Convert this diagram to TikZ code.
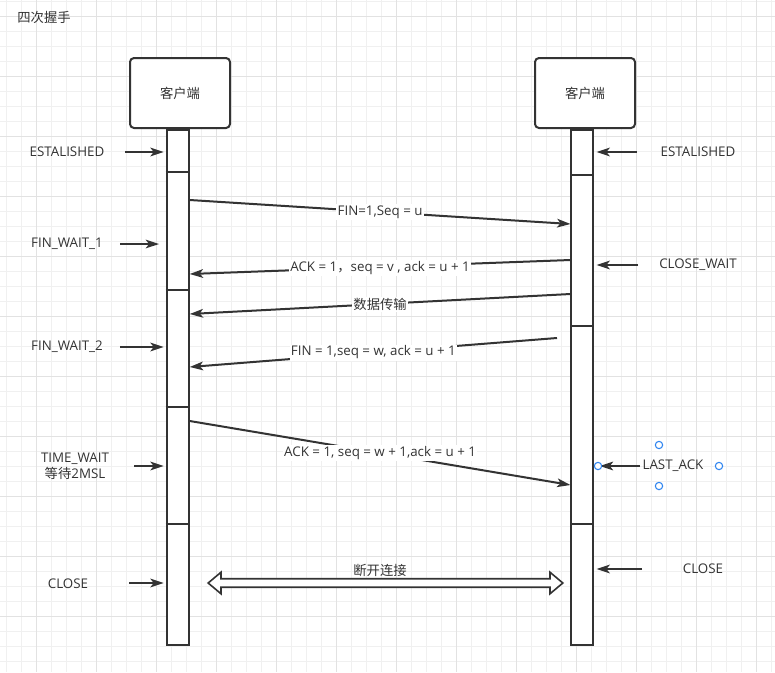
\documentclass[tikz,border=0pt]{standalone}
\usepackage{fontspec}
\setmainfont{Open Sans}
\newfontfamily\cjk{Noto Sans CJK SC}
\usetikzlibrary{positioning,calc,arrows.meta,shapes.arrows}
\definecolor{ink}{HTML}{333333}
\definecolor{gridminor}{HTML}{F0F0F0}
\definecolor{gridmajor}{HTML}{E2E2E2}
\definecolor{handleblue}{HTML}{2F85F0}

\begin{document}
\begin{tikzpicture}[x=0.75pt, y=-0.75pt, font=\fontsize{10}{12}\selectfont, text=ink,
  actor/.style={draw=ink, line width=1.5pt, rounded corners=3pt, fill=white, minimum width=75pt, minimum height=52.5pt},
  life/.style={draw=ink, line width=1.5pt, fill=white, minimum width=16.5pt, minimum height=386.25pt, anchor=north, inner sep=0pt},
  sep/.style={draw=ink, line width=1.5pt},
  msg/.style={draw=ink, line width=1.5pt, -{Stealth[length=10pt,width=6.5pt,inset=2.5pt]}},
  st/.style={msg},
  lbl/.style={fill=white, inner sep=1pt},
  handle/.style={circle, draw=handleblue, line width=0.8pt, fill=white, minimum size=5.5pt, inner sep=0pt},
  gmin/.style={draw=gridminor, line width=0.75pt},
  gmaj/.style={draw=gridmajor, line width=0.75pt}]
	% background and grid
	\fill[white] (0,0) rectangle (775,672);
	\useasboundingbox (0,0) rectangle (775,672);
	\foreach \i in {0,...,51} \draw[gmin] (6.7+15*\i,0) -- (6.7+15*\i,672);
	\foreach \i in {0,...,44} \draw[gmin] (0,1.7+15*\i) -- (775,1.7+15*\i);
	\foreach \i in {0,...,12} \draw[gmaj] (36.7+60*\i,0) -- (36.7+60*\i,672);
	\foreach \i in {0,...,10} \draw[gmaj] (0,16.7+60*\i) -- (775,16.7+60*\i);

	\node (title) at (44,17) {\cjk 四次握手};

	% actors and lifelines
	\node[actor] (client) at (180,93) {\cjk 客户端};
	\node[actor] (server) at (585,93) {\cjk 客户端};
	\node[life] (cl) at ([xshift=-1.7pt]client.south) {};
	\node[life] (sl) at ([xshift=-1.9pt]server.south) {};
	\foreach \yy in {172,290,407,524} \draw[sep] (cl.west |- 0,\yy) -- (cl.east |- 0,\yy);
	\foreach \yy in {175,326,524} \draw[sep] (sl.west |- 0,\yy) -- (sl.east |- 0,\yy);

	% messages
	\draw[msg] (cl.east |- 0,200) -- node[lbl] {FIN=1,Seq = u} (sl.west |- 0,224);
	\draw[msg] (sl.west |- 0,260) -- node[lbl, yshift=-1pt] {ACK = 1{\cjk ，}seq = v , ack = u + 1} (cl.east |- 0,274);
	\draw[msg] (sl.west |- 0,294) -- node[lbl] {\cjk 数据传输} (cl.east |- 0,314);
	\coordinate (fin_s) at (557,338);
	\draw[msg] (fin_s) -- node[lbl] {FIN = 1,seq = w, ack = u + 1} (cl.east |- 0,367);
	\draw[msg] (cl.east |- 0,421) -- node[lbl] {ACK = 1, seq = w + 1,ack = u + 1} (sl.west |- 0,485);

	% client states
	\node (c_est) at (67,152) {ESTALISHED};
	\coordinate (c_est_s) at (125,152);
	\draw[st, shorten >=1.5pt] (c_est_s) -- (cl.west |- c_est_s);
	\node (c_fw1) at (67,244) {FIN\_WAIT\_1};
	\coordinate (c_fw1_s) at (120,244);
	\draw[st, shorten >=5pt] (c_fw1_s) -- (cl.west |- c_fw1_s);
	\node (c_fw2) at (67,347) {FIN\_WAIT\_2};
	\coordinate (c_fw2_s) at (120,347);
	\draw[st, shorten >=1.5pt] (c_fw2_s) -- (cl.west |- c_fw2_s);
	\node[align=center] (c_tw) at (75,466) {TIME\_WAIT\\{\cjk 等待}2MSL};
	\coordinate (c_tw_s) at (134,466);
	\draw[st, shorten >=1.5pt] (c_tw_s) -- (cl.west |- c_tw_s);
	\node (c_close) at (68,584) {CLOSE};
	\coordinate (c_close_s) at (129,583);
	\draw[st, shorten >=1.5pt] (c_close_s) -- (cl.west |- c_close_s);

	% server states
	\node (s_est) at (698,152) {ESTALISHED};
	\coordinate (s_est_s) at (637,152);
	\draw[st, shorten >=1.5pt] (s_est_s) -- (sl.east |- s_est_s);
	\node (s_cw) at (698,265) {CLOSE\_WAIT};
	\coordinate (s_cw_s) at (638,265);
	\draw[st, shorten >=1.5pt] (s_cw_s) -- (sl.east |- s_cw_s);
	\node (s_la) at (673,466) {LAST\_ACK};
	\coordinate (s_la_s) at (640,466);
	\draw[st, shorten >=4pt] (s_la_s) -- (sl.east |- s_la_s);
	\node (s_close) at (703,569) {CLOSE};
	\coordinate (s_close_s) at (642,569);
	\draw[st, shorten >=1.5pt] (s_close_s) -- (sl.east |- s_close_s);

	% selection handles
	\node[handle] (h_n) at (659,445) {};
	\node[handle] (h_w) at (598,466) {};
	\node[handle] (h_e) at (719,466) {};
	\node[handle] (h_s) at (659,486) {};

	% closing
	\node[double arrow, draw=ink, line width=1.2pt, fill=white, minimum height=266pt, minimum width=15pt, inner sep=0pt, inner ysep=2.6pt, double arrow head extend=4.9pt, double arrow tip angle=80] (gone) at (385.5,583) {};
	\node (gone_lbl) at (380,570) {\cjk 断开连接};
\end{tikzpicture}
\end{document}
